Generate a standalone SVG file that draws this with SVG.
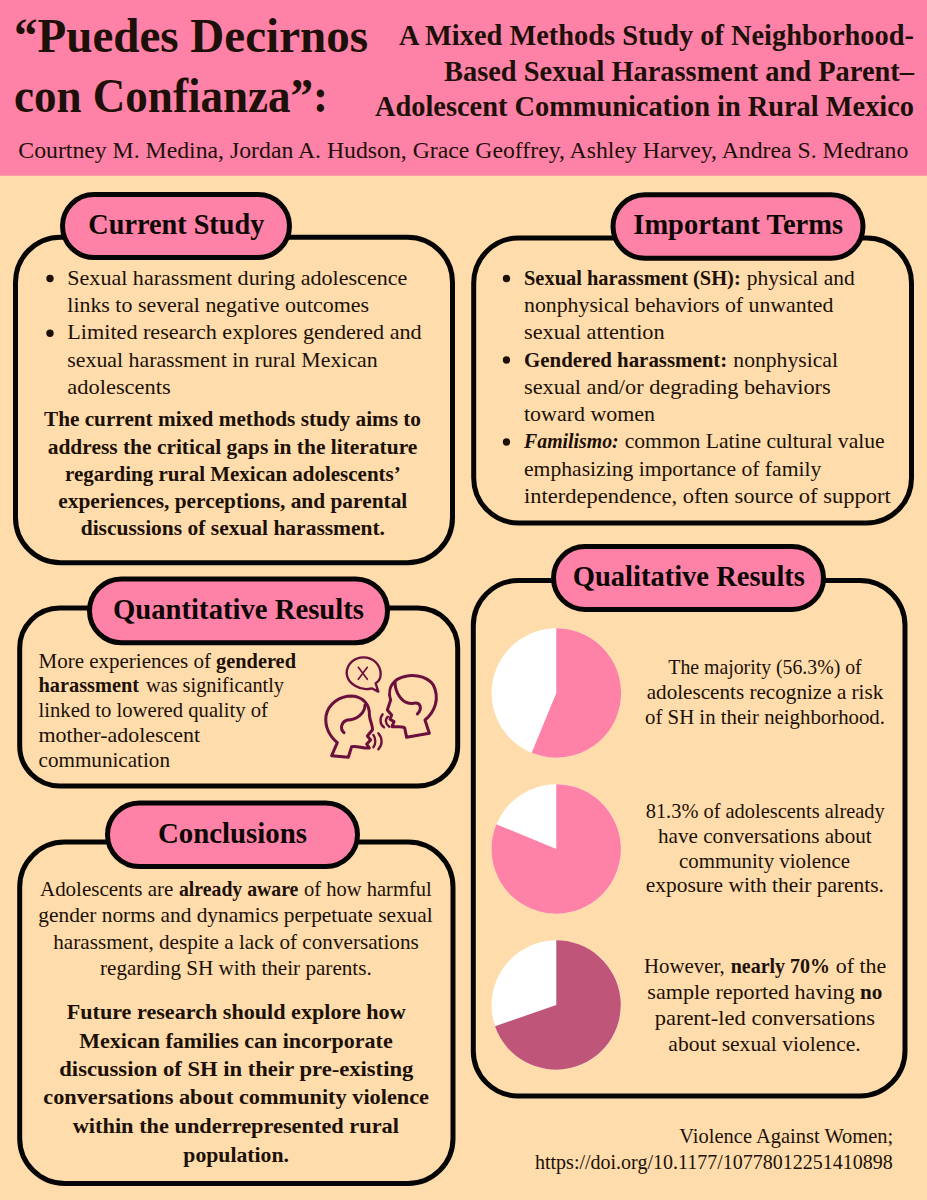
<svg xmlns="http://www.w3.org/2000/svg" width="927" height="1200" viewBox="0 0 927 1200">
<style>
text{font-family:"Liberation Serif","DejaVu Serif",serif;fill:#1c1008}
.b{font-size:22px}
.s{font-weight:bold}
.h{font-size:30px;font-weight:bold;fill:#0d0705}
.panel{fill:none;stroke:#050505;stroke-width:5}
.pill{fill:#fe81a7;stroke:#050505;stroke-width:5}
.dot{fill:#1c1008}
.pink{fill:#fe81a7}
.ico{fill:none;stroke:#6a0f3e;stroke-width:9;stroke-linecap:round;stroke-linejoin:round}
</style>
<rect width="927" height="1200" fill="#fedcab"/>
<g id="banner">
<rect width="927" height="175.7" fill="#fe81a7"/>
<text x="14" y="51.7" font-size="48" font-weight="bold" fill="#0d0705" textLength="354" lengthAdjust="spacingAndGlyphs">“Puedes Decirnos</text>
<text x="14" y="111.7" font-size="48" font-weight="bold" fill="#0d0705" textLength="314" lengthAdjust="spacingAndGlyphs">con Confianza”:</text>
<text x="399" y="45" font-size="29" font-weight="bold" textLength="515" lengthAdjust="spacingAndGlyphs">A Mixed Methods Study of Neighborhood-</text>
<text x="444" y="80.7" font-size="29" font-weight="bold" textLength="470" lengthAdjust="spacingAndGlyphs">Based Sexual Harassment and Parent–</text>
<text x="375" y="115.7" font-size="29" font-weight="bold" textLength="539" lengthAdjust="spacingAndGlyphs">Adolescent Communication in Rural Mexico</text>
<text x="18.3" y="158.3" font-size="24" textLength="890" lengthAdjust="spacingAndGlyphs">Courtney M. Medina, Jordan A. Hudson, Grace Geoffrey, Ashley Harvey, Andrea S. Medrano</text>
</g>
<g id="current-study">
<rect class="panel" x="15.5" y="237.2" width="437" height="325.5" rx="45"/>
<rect class="pill" x="62.5" y="194.5" width="227" height="63" rx="31.5"/>
<text class="h" x="88.3" y="234.3" textLength="176" lengthAdjust="spacingAndGlyphs">Current Study</text>
<circle class="dot" cx="50" cy="278.5" r="3.7"/><circle class="dot" cx="50" cy="333.3" r="3.7"/>
<g class="b">
<text x="67.3" y="285" textLength="340" lengthAdjust="spacingAndGlyphs">Sexual harassment during adolescence</text>
<text x="67.3" y="312" textLength="301.7" lengthAdjust="spacingAndGlyphs">links to several negative outcomes</text>
<text x="67.3" y="339.3" textLength="354.4" lengthAdjust="spacingAndGlyphs">Limited research explores gendered and</text>
<text x="67.3" y="366.7" textLength="310.4" lengthAdjust="spacingAndGlyphs">sexual harassment in rural Mexican</text>
<text x="67.3" y="394" textLength="103.4" lengthAdjust="spacingAndGlyphs">adolescents</text>
<g class="s">
<text x="44" y="426" textLength="377" lengthAdjust="spacingAndGlyphs">The current mixed methods study aims to</text>
<text x="47.7" y="454" textLength="369.6" lengthAdjust="spacingAndGlyphs">address the critical gaps in the literature</text>
<text x="65" y="481" textLength="335.7" lengthAdjust="spacingAndGlyphs">regarding rural Mexican adolescents’</text>
<text x="58.3" y="508.3" textLength="349" lengthAdjust="spacingAndGlyphs">experiences, perceptions, and parental</text>
<text x="80.7" y="535.3" textLength="304.3" lengthAdjust="spacingAndGlyphs">discussions of sexual harassment.</text>
</g></g>
</g>
<g id="important-terms">
<rect class="panel" x="473.7" y="238" width="437.8" height="285" rx="45"/>
<rect class="pill" x="613" y="194.7" width="250" height="63.6" rx="31.8"/>
<text class="h" x="633.3" y="234.3" textLength="209.7" lengthAdjust="spacingAndGlyphs">Important Terms</text>
<circle class="dot" cx="506.5" cy="278.5" r="3.7"/><circle class="dot" cx="506.5" cy="360" r="3.7"/><circle class="dot" cx="506.5" cy="442" r="3.7"/>
<g class="b">
<text class="s" x="524" y="285" textLength="216.7" lengthAdjust="spacingAndGlyphs">Sexual harassment (SH):</text>
<text x="746.7" y="285" textLength="108" lengthAdjust="spacingAndGlyphs">physical and</text>
<text x="524" y="312" textLength="309.3" lengthAdjust="spacingAndGlyphs">nonphysical behaviors of unwanted</text>
<text x="524" y="339.3" textLength="140.7" lengthAdjust="spacingAndGlyphs">sexual attention</text>
<text class="s" x="524" y="366.7" textLength="203.3" lengthAdjust="spacingAndGlyphs">Gendered harassment:</text>
<text x="733.3" y="366.7" textLength="104.7" lengthAdjust="spacingAndGlyphs">nonphysical</text>
<text x="524" y="394" textLength="306.7" lengthAdjust="spacingAndGlyphs">sexual and/or degrading behaviors</text>
<text x="524" y="421.3" textLength="131" lengthAdjust="spacingAndGlyphs">toward women</text>
<text class="s" x="524" y="448.3" textLength="94.7" lengthAdjust="spacingAndGlyphs" font-style="italic">Familismo:</text>
<text x="624.7" y="448.3" textLength="260" lengthAdjust="spacingAndGlyphs">common Latine cultural value</text>
<text x="524" y="475.7" textLength="297.3" lengthAdjust="spacingAndGlyphs">emphasizing importance of family</text>
<text x="524" y="502.7" textLength="366.7" lengthAdjust="spacingAndGlyphs">interdependence, often source of support</text>
</g>
</g>
<g id="quantitative-results">
<rect class="panel" x="19.7" y="608" width="438" height="178" rx="40"/>
<rect class="pill" x="89.5" y="579" width="298" height="63.7" rx="31.8"/>
<text class="h" x="113" y="619.3" textLength="251" lengthAdjust="spacingAndGlyphs">Quantitative Results</text>
<g class="b">
<text x="38.5" y="667.7" textLength="172.5" lengthAdjust="spacingAndGlyphs">More experiences of</text>
<text class="s" x="216" y="667.7" textLength="80" lengthAdjust="spacingAndGlyphs">gendered</text>
<text class="s" x="38.5" y="692.3" textLength="100.5" lengthAdjust="spacingAndGlyphs">harassment</text>
<text x="146" y="692.3" textLength="138" lengthAdjust="spacingAndGlyphs">was significantly</text>
<text x="38.5" y="717.3" textLength="229.5" lengthAdjust="spacingAndGlyphs">linked to lowered quality of</text>
<text x="38.5" y="742.3" textLength="161.5" lengthAdjust="spacingAndGlyphs">mother-adolescent</text>
<text x="38.5" y="767.3" textLength="131.5" lengthAdjust="spacingAndGlyphs">communication</text>
</g>
<g transform="translate(310 640) scale(.3333)">
<path class="ico" style="stroke-width:7" d="M205 155 L185 145 C150 155 112 130 110 100 C110 70 135 52 160 52 C190 52 212 75 212 102 C212 118 205 125 197 130 Z"/>
<path class="ico" style="stroke-width:5" d="M145 82 L172 118 M172 82 L145 118"/>
<path class="ico" d="M65 347 L82 308 C55 285 45 255 48 228 C55 190 90 168 125 168 C160 170 180 195 178 225 C180 245 190 260 187 270 L172 288 L182 300 L170 312 L178 324 C160 326 140 316 125 320 L115 352 Z"/>
<path class="ico" d="M165 195 C165 220 140 240 112 240 C95 245 88 265 102 278"/>
<path class="ico" d="M290 292 L358 280 L345 240 C375 215 390 175 370 135 C350 105 300 98 262 118 C238 135 235 160 242 180 L232 210 L245 225 L240 238 L252 245 L246 260 C262 262 280 258 284 264 Z"/>
<path class="ico" d="M255 125 C255 155 275 195 310 190 C332 185 338 205 322 222"/>
<path class="ico" style="stroke-width:7" d="M218 223 C208 235 210 255 222 262 M234 230 C224 238 226 252 238 260 M190 285 C198 295 198 312 190 322 M205 280 C218 295 218 315 205 328"/>
</g>
</g>
<g id="conclusions">
<rect class="panel" x="19.7" y="842" width="433.3" height="341.5" rx="45"/>
<rect class="pill" x="107.5" y="803" width="250" height="63.5" rx="31.7"/>
<text class="h" x="158" y="843" textLength="149" lengthAdjust="spacingAndGlyphs">Conclusions</text>
<g class="b">
<text x="40" y="896" textLength="133.3" lengthAdjust="spacingAndGlyphs">Adolescents are</text>
<text class="s" x="179" y="896" textLength="119.3" lengthAdjust="spacingAndGlyphs">already aware</text>
<text x="304" y="896" textLength="127.7" lengthAdjust="spacingAndGlyphs">of how harmful</text>
<text x="38.3" y="922.3" textLength="394.4" lengthAdjust="spacingAndGlyphs">gender norms and dynamics perpetuate sexual</text>
<text x="53.3" y="948.7" textLength="365.4" lengthAdjust="spacingAndGlyphs">harassment, despite a lack of conversations</text>
<text x="100" y="974.7" textLength="271.7" lengthAdjust="spacingAndGlyphs">regarding SH with their parents.</text>
<g class="s">
<text x="66.7" y="1019" textLength="339" lengthAdjust="spacingAndGlyphs">Future research should explore how</text>
<text x="79.3" y="1047.7" textLength="313.4" lengthAdjust="spacingAndGlyphs">Mexican families can incorporate</text>
<text x="59.3" y="1076" textLength="354" lengthAdjust="spacingAndGlyphs">discussion of SH in their pre-existing</text>
<text x="43.3" y="1104.3" textLength="385.7" lengthAdjust="spacingAndGlyphs">conversations about community violence</text>
<text x="72.7" y="1133.3" textLength="326.3" lengthAdjust="spacingAndGlyphs">within the underrepresented rural</text>
<text x="183.3" y="1161.7" textLength="105.7" lengthAdjust="spacingAndGlyphs">population.</text>
</g></g>
</g>
<g id="qualitative-results">
<rect class="panel" x="473.3" y="580.5" width="431.7" height="515.5" rx="45"/>
<rect class="pill" x="553.5" y="546.5" width="270" height="63" rx="31.5"/>
<text class="h" x="572.7" y="585.7" textLength="232.3" lengthAdjust="spacingAndGlyphs">Qualitative Results</text>
<g id="pie-1"><circle cx="556.3" cy="693" r="64.7" fill="#fff"/><path class="pink" d="M556.3 628.3 A64.7 64.7 0 1 1 531.7 752.8 L556.3 693 Z"/></g>
<g id="pie-2"><circle cx="556.3" cy="849" r="64.7" fill="#fff"/><path class="pink" d="M556.3 784.3 A64.7 64.7 0 1 1 496.4 824.3 L556.3 849 Z"/></g>
<g id="pie-3"><circle cx="556.3" cy="1005" r="64.7" fill="#fff"/><path fill="#bf5579" d="M556.3 940.3 A64.7 64.7 0 1 1 495 1026.3 L556.3 1005 Z"/></g>
<g class="b">
<text x="668.3" y="674.3" textLength="193.4" lengthAdjust="spacingAndGlyphs">The majority (56.3%) of</text>
<text x="646.7" y="699.3" textLength="236.6" lengthAdjust="spacingAndGlyphs">adolescents recognize a risk</text>
<text x="645" y="724" textLength="240" lengthAdjust="spacingAndGlyphs">of SH in their neighborhood.</text>
<text x="645.7" y="817.7" textLength="239" lengthAdjust="spacingAndGlyphs">81.3% of adolescents already</text>
<text x="658" y="842.7" textLength="213.7" lengthAdjust="spacingAndGlyphs">have conversations about</text>
<text x="679" y="867.7" textLength="171" lengthAdjust="spacingAndGlyphs">community violence</text>
<text x="645.7" y="892.3" textLength="238.3" lengthAdjust="spacingAndGlyphs">exposure with their parents.</text>
<text x="644" y="972.7" textLength="80.7" lengthAdjust="spacingAndGlyphs">However,</text>
<text class="s" x="730.7" y="972.7" textLength="99.3" lengthAdjust="spacingAndGlyphs">nearly 70%</text>
<text x="835.7" y="972.7" textLength="50.6" lengthAdjust="spacingAndGlyphs">of the</text>
<text x="647.3" y="998.7" textLength="207.4" lengthAdjust="spacingAndGlyphs">sample reported having</text>
<text class="s" x="860" y="998.7" textLength="22.3" lengthAdjust="spacingAndGlyphs">no</text>
<text x="654.7" y="1025" textLength="220.3" lengthAdjust="spacingAndGlyphs">parent-led conversations</text>
<text x="668.3" y="1050.7" textLength="192.4" lengthAdjust="spacingAndGlyphs">about sexual violence.</text>
</g>
</g>
<g id="citation" class="b">
<text x="679.3" y="1143.3" textLength="214" lengthAdjust="spacingAndGlyphs">Violence Against Women;</text>
<text x="535" y="1169" textLength="357.7" lengthAdjust="spacingAndGlyphs">https://doi.org/10.1177/10778012251410898</text>
</g>
</svg>
